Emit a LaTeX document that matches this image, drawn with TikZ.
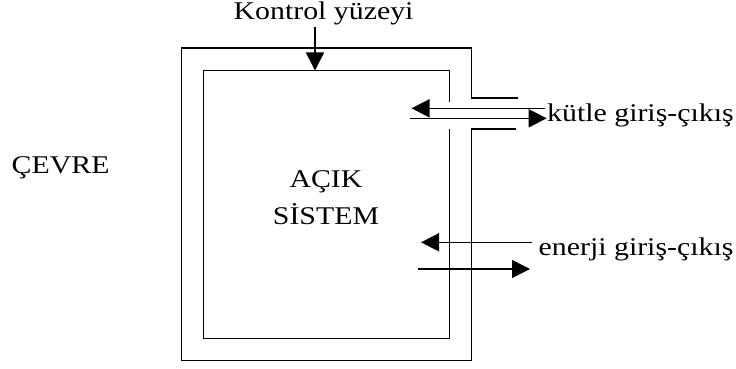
\documentclass[tikz,border=0pt]{standalone}
\usepackage{fontspec}
\setmainfont[FakeStretch=1.17]{Liberation Serif}
\usetikzlibrary{arrows.meta}
\begin{document}
\begin{tikzpicture}[x=1pt,y=-1pt,
  wall/.style={line width=1.9pt, line join=miter},
  arr/.style={line width=1.6pt, -{Triangle[length=18pt,width=18pt]}},
  lbl/.style={inner sep=0pt, anchor=base west, font=\fontsize{25.5}{30}\selectfont},
  lblc/.style={inner sep=0pt, anchor=base, font=\fontsize{25.5}{30}\selectfont}]
\useasboundingbox (0,0) rectangle (736,369);
% outer control surface with pipe opening
\draw[wall] (518,98.3) -- (471.5,98.3) -- (471.5,48) -- (181.5,48) -- (181.5,360.5) -- (471.5,360.5) -- (471.5,129.3) -- (516,129.3);
% inner system boundary
\draw[wall] (449.5,102.3) -- (449.5,70.5) -- (203.5,70.5) -- (203.5,338.5) -- (449.5,338.5) -- (449.5,129.3);
% labels
\node[lbl] (kontrol) at (233.5,19.5) {Kontrol yüzeyi};
\node[lbl] (cevre) at (11.5,173) {ÇEVRE};
\node[lblc] (acik) at (326,187.3) {AÇIK};
\node[lblc] (sistem) at (326,224) {SİSTEM};
\node[lbl] (kutle) at (547,121.7) {kütle giriş-çıkış};
\node[lbl] (enerji) at (538.5,255) {enerji giriş-çıkış};
% coordinates
\coordinate (k1) at (315,27);
\coordinate (k2) at (315,70.5);
\coordinate (m1s) at (545,108.3);
\coordinate (m1e) at (411.5,108.3);
\coordinate (m2s) at (410,118.3);
\coordinate (m2e) at (546.7,118.3);
\coordinate (e1s) at (531.7,242.3);
\coordinate (e1e) at (421,242.3);
\coordinate (e2s) at (418.3,269);
\coordinate (e2e) at (530,269);
% arrows
\draw[arr] (k1) -- (k2);
\draw[arr] (m1s) -- (m1e);
\draw[arr] (m2s) -- (m2e);
\draw[arr] (e1s) -- (e1e);
\draw[arr] (e2s) -- (e2e);
\end{tikzpicture}
\end{document}
